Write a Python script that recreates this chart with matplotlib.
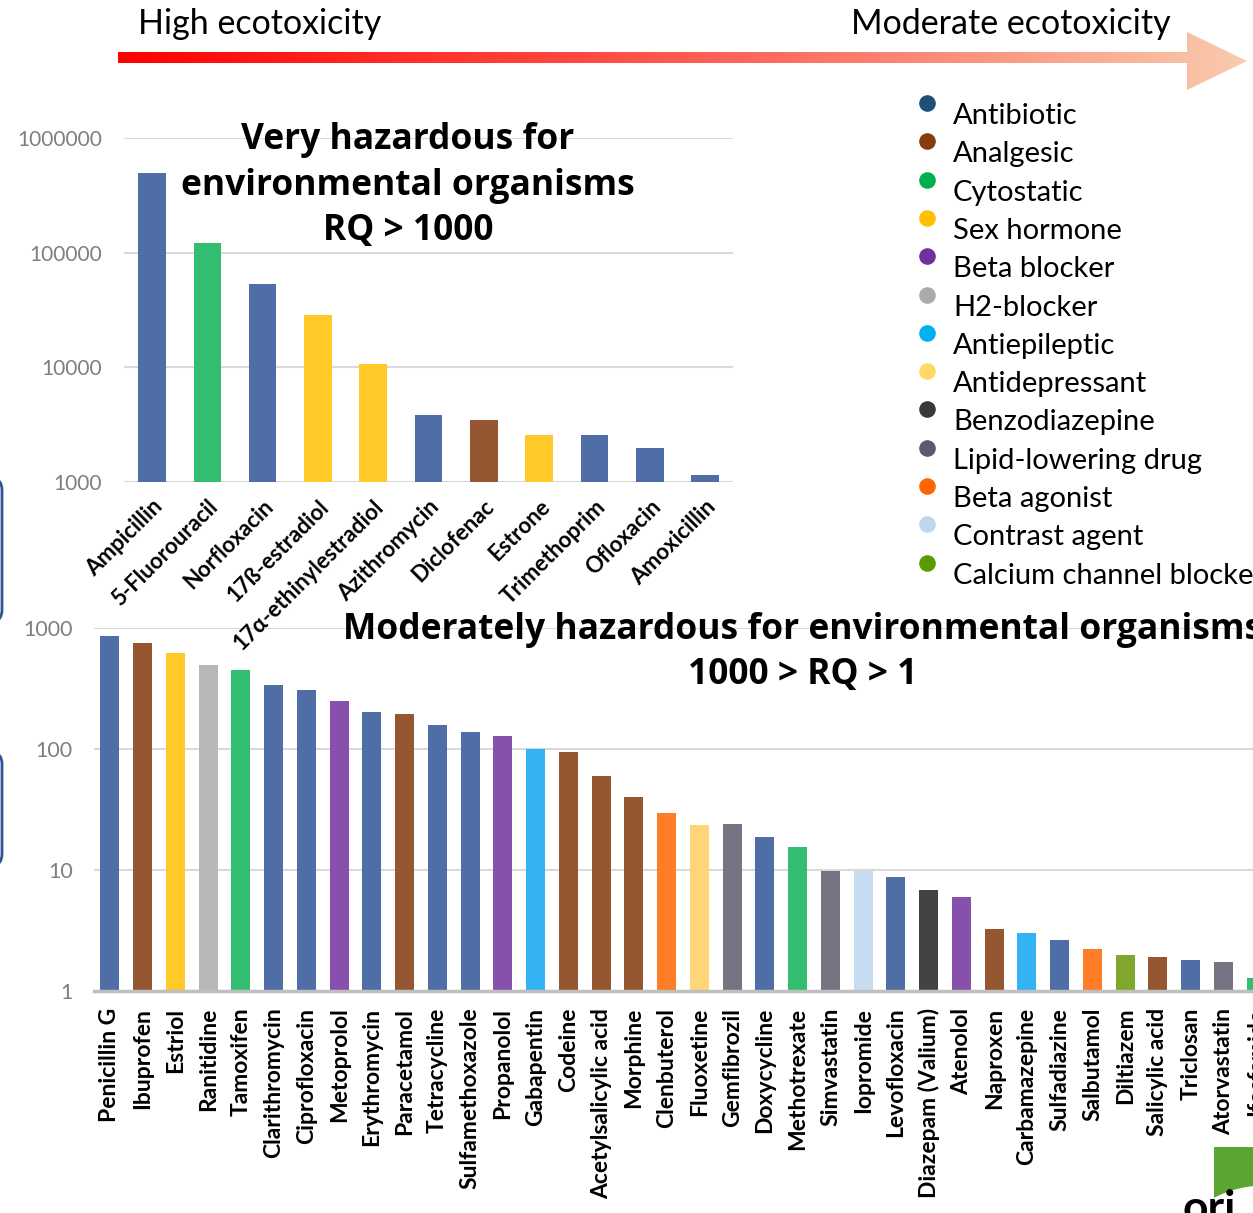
import numpy as np
import matplotlib
matplotlib.use('Agg')
import matplotlib.pyplot as plt
from matplotlib.patches import Polygon, FancyBboxPatch, Rectangle, Ellipse
from matplotlib.colors import LinearSegmentedColormap

plt.rcParams['font.family'] = ['Lato', 'DejaVu Sans']
TITLE_FONT = ['Open Sans', 'DejaVu Sans']

# Drug classes: (legend marker colour, bar colour)
classes = ['Antibiotic', 'Analgesic', 'Cytostatic', 'Sex hormone', 'Beta blocker',
           'H2-blocker', 'Antiepileptic', 'Antidepressant', 'Benzodiazepine',
           'Lipid-lowering drug', 'Beta agonist', 'Contrast agent',
           'Calcium channel blocker']
legend_colors = ['#1F4E79', '#843C0C', '#00B050', '#FFC000', '#7030A0', '#AEAAAA',
                 '#00B0F0', '#FFD966', '#3B3838', '#5C5A6E', '#FF6600', '#BDD7EE',
                 '#5B9B00']
bar_colors = ['#4E6EA5', '#955731', '#33BD70', '#FFC928', '#8650AC', '#B9B6B6',
              '#33B3F3', '#FFD57A', '#444242', '#767382', '#FF7D27', '#C6DDF1',
              '#7EA72B']
color_of = dict(zip(classes, bar_colors))

# RQ > 1000
high_drugs = ['Ampicillin', '5-Fluorouracil', 'Norfloxacin', '17ß-estradiol',
              '17α-ethinylestradiol', 'Azithromycin', 'Diclofenac', 'Estrone',
              'Trimethoprim', 'Ofloxacin', 'Amoxicillin']
high_rq = [500000, 121000, 53000, 28600, 10700, 3840, 3470, 2570, 2580, 1980, 1150]
high_class = ['Antibiotic', 'Cytostatic', 'Antibiotic', 'Sex hormone', 'Sex hormone',
              'Antibiotic', 'Analgesic', 'Sex hormone', 'Antibiotic', 'Antibiotic',
              'Antibiotic']

# 1000 > RQ > 1
mod_drugs = ['Penicillin G', 'Ibuprofen', 'Estriol', 'Ranitidine', 'Tamoxifen',
             'Clarithromycin', 'Ciprofloxacin', 'Metoprolol', 'Erythromycin',
             'Paracetamol', 'Tetracycline', 'Sulfamethoxazole', 'Propanolol',
             'Gabapentin', 'Codeine', 'Acetylsalicylic acid', 'Morphine',
             'Clenbuterol', 'Fluoxetine', 'Gemfibrozil', 'Doxycycline',
             'Methotrexate', 'Simvastatin', 'Iopromide', 'Levofloxacin',
             'Diazepam (Valium)', 'Atenolol', 'Naproxen', 'Carbamazepine',
             'Sulfadiazine', 'Salbutamol', 'Diltiazem', 'Salicylic acid',
             'Triclosan', 'Atorvastatin', 'Ifosfamide']
mod_rq = [859, 751, 621, 495, 450, 338, 307, 249, 202, 195, 158, 138, 128, 100,
          94.5, 59.8, 40.1, 29.6, 23.5, 24.0, 18.7, 15.5, 9.8, 9.8, 8.75, 6.8,
          5.98, 3.25, 3.02, 2.64, 2.22, 1.98, 1.91, 1.80, 1.74, 1.28]
mod_class = ['Antibiotic', 'Analgesic', 'Sex hormone', 'H2-blocker', 'Cytostatic',
             'Antibiotic', 'Antibiotic', 'Beta blocker', 'Antibiotic', 'Analgesic',
             'Antibiotic', 'Antibiotic', 'Beta blocker', 'Antiepileptic', 'Analgesic',
             'Analgesic', 'Analgesic', 'Beta agonist', 'Antidepressant',
             'Lipid-lowering drug', 'Antibiotic', 'Cytostatic', 'Lipid-lowering drug',
             'Contrast agent', 'Antibiotic', 'Benzodiazepine', 'Beta blocker',
             'Analgesic', 'Antiepileptic', 'Antibiotic', 'Beta agonist',
             'Calcium channel blocker', 'Analgesic', 'Antibiotic',
             'Lipid-lowering drug', 'Cytostatic']

W, H = 1253, 1213
fig = plt.figure(figsize=(W / 100, H / 100), dpi=100)


def fig_box(x0, y0, x1, y1):
    """pixel box (top-left origin) -> figure fraction rect"""
    return [x0 / W, 1 - y1 / H, (x1 - x0) / W, (y1 - y0) / H]


def fig_text(x, y, s, **kw):
    """figure-level text placed in pixels from the top-left corner"""
    return fig.text(x / W, 1 - y / H, s, **kw)


# --- decorations: gradient arrow, side boxes, logo corner ---
deco = fig.add_axes([0, 0, 1, 1], zorder=0)
deco.axis('off')

arrow = Polygon([(118, 52), (1187, 52), (1187, 32), (1247, 61), (1187, 90),
                 (1187, 63), (118, 63)], closed=True, facecolor='none',
                edgecolor='none')
deco.add_patch(arrow)
cmap = LinearSegmentedColormap.from_list('tox', ['#FF0000', '#FF5A50', '#F8CBAD'])
grad = np.linspace(0, 1, 512).reshape(1, -1)
img = deco.imshow(grad, cmap=cmap, extent=[118, 1247, 90, 32], aspect='auto')
img.set_clip_path(arrow)
deco.set_xlim(0, W)
deco.set_ylim(H, 0)

deco.text(138, 24, 'High ecotoxicity', fontsize=24.5, va='center', ha='left')
deco.text(1171, 24, 'Moderate ecotoxicity', fontsize=24.5, va='center', ha='right')

for y0, y1 in [(478, 622), (752, 866)]:
    deco.add_patch(FancyBboxPatch((-300, y0), 302, y1 - y0,
                                  boxstyle='round,pad=0,rounding_size=12',
                                  facecolor='none', edgecolor='#2F5597', lw=2))

deco.add_patch(Rectangle((1214, 1147), 60, 70, facecolor='#5BA532', edgecolor='none'))
deco.add_patch(Ellipse((1270, 1230), 160, 90, facecolor='white', edgecolor='none'))
deco.text(1182, 1222, 'ori', fontsize=32, fontweight='bold', color='black',
          ha='left', va='baseline')

# legend
for i, (name, col) in enumerate(zip(classes, legend_colors)):
    y = 103 + i * 38.3
    deco.scatter([927], [y], s=120, color=col, zorder=3)
    deco.text(953, y + 13, name, fontsize=21, va='center', ha='left')

grid_col = '#D9D9D9'
tick_col = '#7F7F7F'

# --- moderately hazardous chart ---
ax2 = fig.add_axes(fig_box(93.6, 628, 93.6 + 36 * 32.75, 991), zorder=1)
ax2.patch.set_alpha(0)
x2 = np.arange(len(mod_drugs))
ax2.bar(x2, mod_rq, width=0.58, color=[color_of[c] for c in mod_class], zorder=2)
ax2.set_yscale('log')
ax2.set_ylim(1, 1000)
ax2.set_xlim(-0.5, len(mod_drugs) - 0.5)
ax2.set_yticks([1, 10, 100, 1000])
ax2.set_yticklabels(['1', '10', '100', '1000'])
ax2.minorticks_off()
for v in [10, 100, 1000]:
    ax2.axhline(v, color=grid_col, lw=1.5, zorder=1)
for s in ['top', 'right', 'left']:
    ax2.spines[s].set_visible(False)
ax2.spines['bottom'].set_color('#BFBFBF')
ax2.spines['bottom'].set_linewidth(2.5)
ax2.tick_params(axis='y', length=0, pad=15, labelsize=15.5, labelcolor=tick_col)
ax2.tick_params(axis='x', length=0, pad=12)
ax2.set_xticks(x2)
ax2.set_xticklabels(mod_drugs, rotation=90, fontsize=16.5, fontweight='bold',
                    va='top', ha='center')

# --- very hazardous chart ---
ax1 = fig.add_axes(fig_box(124.4, 138, 732.7, 482), zorder=2)
ax1.patch.set_alpha(0)
x1 = np.arange(len(high_drugs))
ax1.bar(x1, high_rq, width=0.5, color=[color_of[c] for c in high_class], zorder=2)
ax1.set_yscale('log')
ax1.set_ylim(1000, 1e6)
ax1.set_xlim(-0.5, len(high_drugs) - 0.5)
ax1.set_yticks([1e3, 1e4, 1e5, 1e6])
ax1.set_yticklabels(['1000', '10000', '100000', '1000000'])
ax1.minorticks_off()
for v in [1e3, 1e4, 1e5, 1e6]:
    ax1.axhline(v, color=grid_col, lw=1.5, zorder=1)
for s in ax1.spines.values():
    s.set_visible(False)
ax1.tick_params(axis='y', length=0, pad=16, labelsize=15, labelcolor=tick_col)
ax1.tick_params(axis='x', length=0, pad=10)
ax1.set_xticks(x1)
ax1.set_xticklabels(high_drugs, rotation=45, fontsize=16, fontweight='bold',
                    ha='right', va='top', rotation_mode='anchor')

# chart titles (on top of everything)
title_kw = dict(ha='center', va='center', fontsize=25.5, fontweight='bold',
                family=TITLE_FONT, zorder=5)
for line, y in zip(['Very hazardous for', 'environmental organisms', 'RQ > 1000'],
                   [140, 186, 231]):
    fig_text(408, y, line, **title_kw)
for line, y in zip(['Moderately hazardous for environmental organisms', '1000 > RQ > 1'],
                   [630, 675]):
    fig_text(803, y, line, **title_kw)

fig.savefig('out.png', dpi=100)
